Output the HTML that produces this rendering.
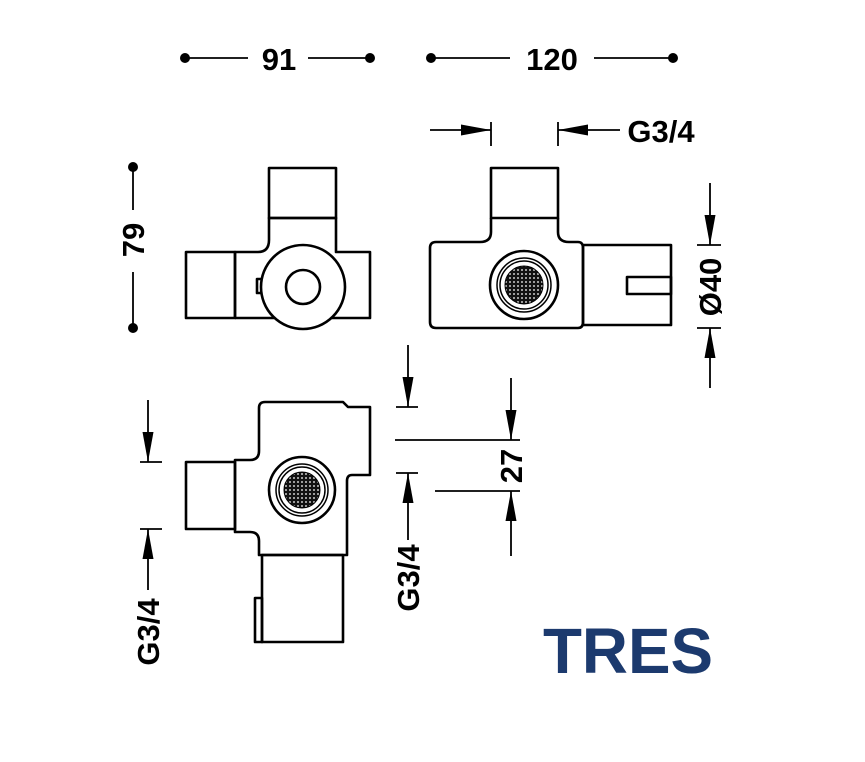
<!DOCTYPE html>
<html><head><style>html,body{margin:0;padding:0;background:#fff}</style></head>
<body>
<svg width="865" height="757" viewBox="0 0 865 757" xmlns="http://www.w3.org/2000/svg">
<defs>
<pattern id="dots" width="4" height="4" patternUnits="userSpaceOnUse"><rect width="4" height="4" fill="#111"/><circle cx="2" cy="2" r="0.9" fill="#fff"/></pattern>
<marker id="ar" viewBox="0 0 30 11" refX="30" refY="5.5" markerWidth="30" markerHeight="11" markerUnits="userSpaceOnUse" orient="auto"><path d="M0,0 L30,5.5 L0,11 z" fill="#000"/></marker>
</defs>
<g fill="none" stroke="#000" stroke-width="2.6" stroke-linejoin="round">
<rect x="269" y="168" width="67" height="50"/>
<rect x="186" y="252" width="49" height="66"/>
<path d="M235,318 L235,252 L258,252 Q269,252 269,240 L269,218 L336,218 L336,252 L370,252 L370,318 L235,318"/>
<circle cx="303" cy="287" r="42" fill="#fff"/>
<circle cx="303" cy="287" r="17"/>
<path d="M262,279 L257,279 L257,293 L262,293"/>
<rect x="491" y="168" width="67" height="50"/>
<path d="M491,218 L491,232 Q491,242 480,242 L436,242 Q430,242 430,248 L430,322 Q430,328 436,328 L578,328 Q583,328 583,322 L583,248 Q583,242 578,242 L569,242 Q558,242 558,232 L558,218"/>
<rect x="583" y="245" width="88" height="80"/>
<rect x="627" y="277" width="44" height="17"/>
<circle cx="524" cy="285" r="34"/>
<circle cx="524" cy="285" r="27" stroke-width="1.5"/>
<circle cx="524" cy="285" r="24" stroke-width="1.5"/>
<circle cx="524" cy="285" r="19" fill="url(#dots)" stroke-width="1"/>
<path d="M259,408 Q259,402 265,402 L343,402 L348,407 L370,407 L370,475 L352,475 Q347,475 347,481 L347,555 L259,555 L259,541 Q259,532 250,532 L235,532 L235,460 L250,460 Q259,460 259,451 Z"/>
<rect x="186" y="462" width="49" height="67"/>
<rect x="262" y="555" width="81" height="87"/>
<rect x="255" y="598" width="7" height="44"/>
<circle cx="302" cy="490" r="33"/>
<circle cx="302" cy="490" r="26" stroke-width="1.5"/>
<circle cx="302" cy="490" r="23" stroke-width="1.5"/>
<circle cx="302" cy="490" r="18" fill="url(#dots)" stroke-width="1"/>
</g>
<g stroke="#000" stroke-width="1.8" fill="none">
<line x1="185" y1="58" x2="248" y2="58"/><line x1="308" y1="58" x2="370" y2="58"/>
<line x1="431" y1="58" x2="510" y2="58"/><line x1="594" y1="58" x2="673" y2="58"/>
<line x1="430" y1="130" x2="491" y2="130" marker-end="url(#ar)"/>
<line x1="491" y1="122" x2="491" y2="146"/>
<line x1="620" y1="130" x2="558" y2="130" marker-end="url(#ar)"/>
<line x1="558" y1="122" x2="558" y2="146"/>
<line x1="133" y1="167" x2="133" y2="210"/><line x1="133" y1="272" x2="133" y2="328"/>
<line x1="710" y1="183" x2="710" y2="245" marker-end="url(#ar)"/>
<line x1="697" y1="245" x2="721" y2="245"/>
<line x1="710" y1="388" x2="710" y2="328" marker-end="url(#ar)"/>
<line x1="697" y1="328" x2="721" y2="328"/>
<line x1="148" y1="400" x2="148" y2="462" marker-end="url(#ar)"/>
<line x1="140" y1="462" x2="162" y2="462"/>
<line x1="148" y1="590" x2="148" y2="529" marker-end="url(#ar)"/>
<line x1="140" y1="529" x2="162" y2="529"/>
<line x1="408" y1="345" x2="408" y2="407" marker-end="url(#ar)"/>
<line x1="396" y1="407" x2="418" y2="407"/>
<line x1="408" y1="540" x2="408" y2="473" marker-end="url(#ar)"/>
<line x1="396" y1="473" x2="418" y2="473"/>
<line x1="395" y1="440" x2="520" y2="440"/>
<line x1="435" y1="491" x2="520" y2="491"/>
<line x1="511" y1="378" x2="511" y2="440" marker-end="url(#ar)"/>
<line x1="511" y1="556" x2="511" y2="491" marker-end="url(#ar)"/>
</g>
<g fill="#000">
<circle cx="185" cy="58" r="5"/><circle cx="370" cy="58" r="5"/>
<circle cx="431" cy="58" r="5"/><circle cx="673" cy="58" r="5"/>
<circle cx="133" cy="167" r="5"/><circle cx="133" cy="328" r="5"/>
</g>
<g font-family="Liberation Sans, sans-serif" font-weight="bold" font-size="31" fill="#000" text-anchor="middle">
<text x="279" y="70">91</text>
<text x="552" y="70">120</text>
<text x="661" y="142">G3/4</text>
<text transform="translate(144,240) rotate(-90)">79</text>
<text transform="translate(721,287) rotate(-90)">Ø40</text>
<text transform="translate(159,632) rotate(-90)">G3/4</text>
<text transform="translate(419,578) rotate(-90)">G3/4</text>
<text transform="translate(522,466) rotate(-90)">27</text>
</g>
<text x="543" y="673" font-family="Liberation Sans, sans-serif" font-weight="bold" font-size="64" fill="#1c3a6e" textLength="170" lengthAdjust="spacingAndGlyphs">TRES</text>
</svg>
</body></html>
